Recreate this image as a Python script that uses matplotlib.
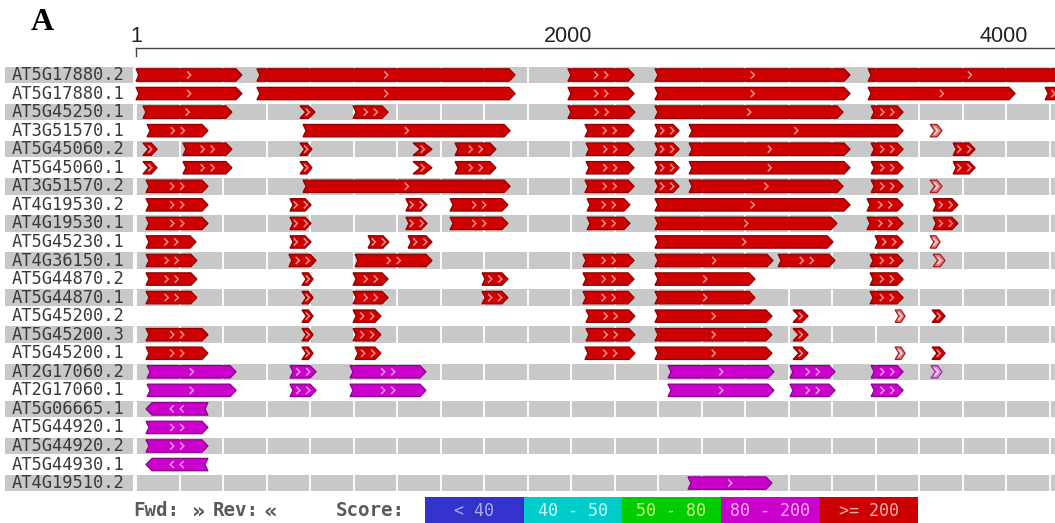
import matplotlib
matplotlib.use('Agg')
import matplotlib.pyplot as plt
from matplotlib.patches import Polygon
import numpy as np

# ---------------- data ----------------
gene_ids = ['AT5G17880.2', 'AT5G17880.1', 'AT5G45250.1', 'AT3G51570.1', 'AT5G45060.2',
            'AT5G45060.1', 'AT3G51570.2', 'AT4G19530.2', 'AT4G19530.1', 'AT5G45230.1',
            'AT4G36150.1', 'AT5G44870.2', 'AT5G44870.1', 'AT5G45200.2', 'AT5G45200.3',
            'AT5G45200.1', 'AT2G17060.2', 'AT2G17060.1', 'AT5G06665.1', 'AT5G44920.1',
            'AT5G44920.2', 'AT5G44930.1', 'AT4G19510.2']
hit_class = ['red'] * 16 + ['mag'] * 7
hit_strand = ['+'] * 18 + ['-', '+', '+', '-', '+']

hit_segments = [
    [(0, 487), (556, 1743), (1986, 2290), (2386, 3283), (3366, 4300)],
    [(0, 487), (556, 1743), (1986, 2290), (2386, 3283), (3366, 4042), (4180, 4300)],
    [(32, 441), (754, 823), (998, 1159), (1986, 2294), (2386, 3251), (3380, 3527)],
    [(51, 331), (768, 1720), (2064, 2290), (2386, 2497), (2543, 3527)],
    [(32, 97), (216, 441), (754, 809), (1274, 1361), (1467, 1655), (2069, 2290), (2386, 2497), (2543, 3283), (3380, 3527), (3757, 3858)],
    [(32, 97), (216, 441), (754, 809), (1274, 1361), (1467, 1655), (2069, 2290), (2386, 2497), (2543, 3283), (3380, 3527), (3757, 3858)],
    [(46, 331), (768, 1720), (2064, 2290), (2386, 2497), (2543, 3251), (3380, 3527)],
    [(46, 331), (708, 805), (1241, 1338), (1444, 1710), (2074, 2271), (2386, 3283), (3361, 3527), (3665, 3779)],
    [(46, 331), (708, 805), (1241, 1338), (1444, 1710), (2074, 2271), (2386, 3223), (3361, 3527), (3665, 3779)],
    [(46, 276), (708, 805), (1067, 1163), (1251, 1361), (2386, 3205), (3398, 3527)],
    [(46, 280), (703, 828), (1007, 1361), (2055, 2290), (2386, 2929), (2952, 3214), (3375, 3527)],
    [(46, 280), (763, 814), (998, 1159), (1591, 1710), (2055, 2290), (2386, 2846), (3375, 3527)],
    [(46, 280), (763, 814), (998, 1159), (1591, 1710), (2055, 2290), (2386, 2846), (3375, 3527)],
    [(763, 814), (998, 1126), (2069, 2294), (2386, 2924), (3021, 3090), (3660, 3720)],
    [(46, 331), (763, 814), (998, 1126), (2069, 2294), (2386, 2924), (3021, 3090)],
    [(46, 331), (763, 814), (1007, 1126), (2064, 2294), (2386, 2924), (3021, 3090), (3660, 3720)],
    [(51, 460), (708, 828), (984, 1333), (2446, 2933), (3007, 3214), (3380, 3527)],
    [(51, 460), (708, 828), (984, 1333), (2446, 2933), (3007, 3214), (3380, 3527)],
    [(46, 331)],
    [(46, 331)],
    [(46, 331)],
    [(46, 331)],
    [(2538, 2924)],
]
weak_segments = [
    [], [], [], [(3651, 3706)], [], [], [(3651, 3706)], [], [], [(3651, 3697)],
    [(3665, 3720)], [], [], [(3490, 3536)], [], [(3490, 3536)], [(3655, 3706)], [],
    [], [], [], [], [],
]
ruler_ticks = [1, 2000, 4000]
score_labels = ['< 40', '40 - 50', '50 - 80', '80 - 200', '>= 200']
score_colors = ['#3333CC', '#00CCCC', '#00CC00', '#CC00CC', '#CC0000']
score_text_colors = ['#A8A8FF', '#C8FFFF', '#D0FF80', '#FFB0FF', '#FFB0B0']

# ---------------- layout ----------------
W, H = 1055, 523
PX_PER_BP = 0.2175
X0_PX = 136.0
ROW_PX = 18.55
ROW0_PX = 75.0
BPX = 1.0 / PX_PER_BP      # bp per pixel
RPX = 1.0 / ROW_PX         # rows per pixel

def px_x(px):
    return (px - X0_PX) * BPX

def px_y(py):
    return (py - ROW0_PX) * RPX

fig = plt.figure(figsize=(W / 100, H / 100), dpi=100)
ax = fig.add_axes([0, 0, 1, 1])
ax.set_xlim(px_x(0), px_x(W))
ax.set_ylim(px_y(H), px_y(0))
ax.axis('off')

n = len(gene_ids)
band_h = 16.5 * RPX
grid_bp = np.arange(0, 4401, 200)
for i in range(0, n, 2):
    ax.barh(i, px_x(W) - px_x(5), left=px_x(5), height=band_h, color='#C8C8C8', lw=0, zorder=1)
    ax.vlines(grid_bp, i - band_h / 2, i + band_h / 2, colors='white', lw=1.3, zorder=1.5)
    ax.vlines(px_x(134), i - band_h / 2, i + band_h / 2, colors='white', lw=2.2, zorder=1.5)

for i, g in enumerate(gene_ids):
    ax.text(px_x(12), i, g, ha='left', va='center', family='DejaVu Sans Mono',
            fontsize=12.3, color='#3a3a3a', zorder=3)

palette = {
    'red': dict(fc='#CE0000', ec='#8E0000', mk='#FF9090', wfc='#E57A7A', wec='#A02020'),
    'mag': dict(fc='#CC00CC', ec='#8A008A', mk='#FF99FF', wfc='#E08AE0', wec='#9A309A'),
}


def mark(x, row, reverse, color):
    dx = 1.8 * BPX
    dy = 3.6 * RPX
    if reverse:
        xs = [x + dx, x - dx, x + dx]
    else:
        xs = [x - dx, x + dx, x - dx]
    ax.plot(xs, [row - dy, row, row + dy], color=color, lw=1.1, zorder=4,
            solid_capstyle='butt', solid_joinstyle='miter')


def arrow(s, e, row, fc, ec, mk, reverse=False):
    wpx = (e - s) * PX_PER_BP
    if wpx < 20:
        tip = wpx * 0.42 * BPX
        notch = wpx * 0.38 * BPX
    else:
        tip = min(6.0, wpx * 0.45) * BPX
        notch = min(3.0, wpx * 0.25) * BPX
    hh = 6.2 * RPX
    if not reverse:
        pts = [(s, row - hh), (e - tip, row - hh), (e, row), (e - tip, row + hh),
               (s, row + hh), (s + notch, row)]
    else:
        pts = [(e, row - hh), (s + tip, row - hh), (s, row), (s + tip, row + hh),
               (e, row + hh), (e - notch, row)]
    ax.add_patch(Polygon(pts, closed=True, fc=fc, ec=ec, lw=0.9, zorder=3,
                         joinstyle='miter'))
    c = (s + e) / 2.0
    if wpx < 20:
        mark(c, row, reverse, mk)
    elif wpx < 80:
        mark(c - 5 * BPX, row, reverse, mk)
        mark(c + 5 * BPX, row, reverse, mk)
    else:
        mark(c, row, reverse, mk)


for i in range(n):
    p = palette[hit_class[i]]
    rev = hit_strand[i] == '-'
    for (s, e) in hit_segments[i]:
        arrow(s, e, i, p['fc'], p['ec'], p['mk'], rev)
    for (s, e) in weak_segments[i]:
        arrow(s, e, i, p['wfc'], p['wec'], '#FFD8D8' if hit_class[i] == 'red' else '#FFD8FF', rev)

# ruler
ry = px_y(47.5)
ax.plot([0, px_x(W + 5)], [ry, ry], color='#444444', lw=1.0, zorder=2, clip_on=False)
ax.plot([0, 0], [ry, px_y(56)], color='#444444', lw=1.0, zorder=2)
for t in ruler_ticks:
    x = 0 if t == 1 else t - 12
    ax.text(x, px_y(36), str(t), ha='center', va='center', family='Liberation Sans',
            fontsize=15.5, color='#222222')

ax.text(px_x(42), px_y(23), 'A', ha='center', va='center', family='Liberation Serif',
        fontweight='bold', fontsize=23, color='black')

# bottom key
ky = px_y(511)
for txt, xpx in [('Fwd:', 133), ('Rev:', 213), ('Score:', 336)]:
    ax.text(px_x(xpx), ky, txt, ha='left', va='center', family='DejaVu Sans Mono',
            fontweight='bold', fontsize=13.8, color='#5a5a5a')
for txt, xpx in [('\u00bb', 199), ('\u00ab', 270)]:
    ax.text(px_x(xpx), ky, txt, ha='center', va='center', family='DejaVu Sans',
            fontweight='bold', fontsize=15, color='#5a5a5a')

lax = fig.add_axes([425 / W, 0, (918 - 425) / W, 26 / H])
lax.bar(np.arange(len(score_labels)), 1, width=1.0, color=score_colors, lw=0)
lax.set_xlim(-0.5, len(score_labels) - 0.5)
lax.set_ylim(0, 1)
lax.axis('off')
for k, (lab, tc) in enumerate(zip(score_labels, score_text_colors)):
    lax.text(k, 0.45, lab, ha='center', va='center', family='DejaVu Sans Mono',
             fontsize=12, color=tc)

fig.savefig('out.png', dpi=100)
